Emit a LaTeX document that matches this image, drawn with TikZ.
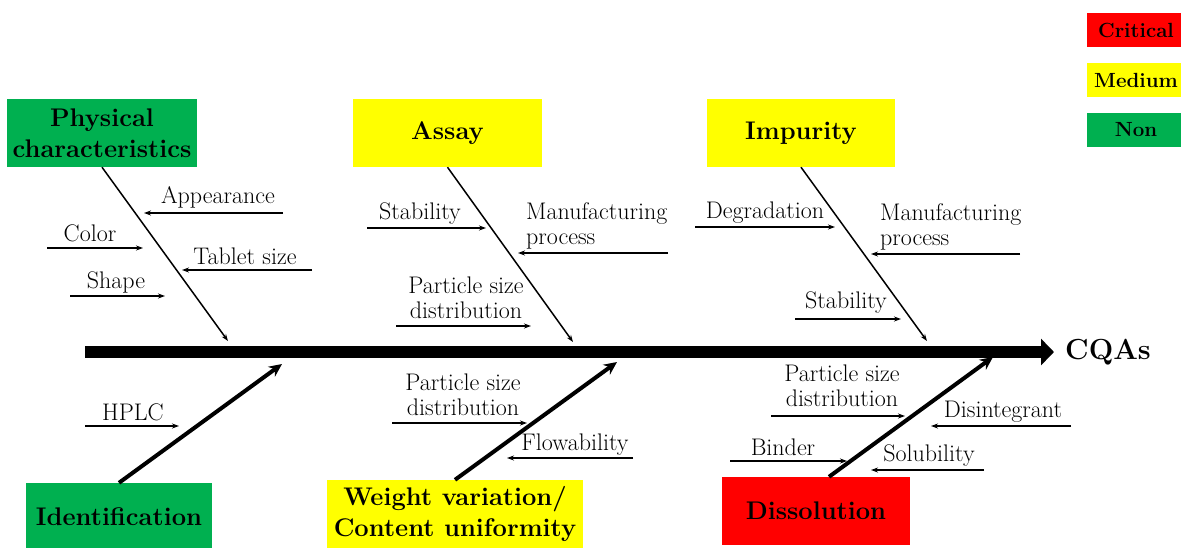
\documentclass[tikz,border=0pt]{standalone}
\usepackage{fontspec}
\usetikzlibrary{arrows.meta}
\definecolor{cgreen}{RGB}{0,176,80}
\definecolor{cyellow}{RGB}{255,255,0}
\definecolor{cred}{RGB}{255,0,0}
\begin{document}
\begin{tikzpicture}[x=1pt,y=-1pt,
  head/.style={font=\fontsize{25.5}{31}\selectfont\bfseries, align=center, inner sep=0pt, minimum height=68pt},
  legend/.style={font=\fontsize{20.5}{22}\selectfont\bfseries, inner sep=0pt, minimum width=98pt, minimum height=34pt},
  lbl/.style={font=\fontsize{24}{25}\selectfont, inner sep=0pt},
  cause/.style={line width=1.4pt, -{Stealth[length=7pt,width=5pt]}},
  bone/.style={line width=1.5pt, -{Stealth[length=7pt,width=5pt]}},
  bonethick/.style={line width=4pt, -{Stealth[length=13pt,width=12pt]}},
  spine/.style={line width=12pt, -{Triangle[length=13pt,width=26pt]}}
]
\useasboundingbox (0,0) rectangle (1181,547);

% legend
\node[legend, fill=cred] (lcrit) at (1136,30) {Critical};
\node[legend, fill=cyellow] (lmed) at (1136,80) {Medium};
\node[legend, fill=cgreen] (lnon) at (1136,129.5) {Non};

% spine
\coordinate (sp0) at (85,352);
\coordinate (sp1) at (1054,352);
\draw[spine] (sp0) -- (sp1);
\node[font=\fontsize{29}{30}\selectfont\bfseries, inner sep=0pt] (cqa) at (1108,352) {CQAs};

% top boxes
\node[head, fill=cgreen, minimum width=190pt] (phys) at (102,133) {Physical\\characteristics};
\node[head, fill=cyellow, minimum width=189pt] (assay) at (447.5,133) {Assay};
\node[head, fill=cyellow, minimum width=188pt] (imp) at (801,133) {Impurity};

% bottom boxes
\node[head, fill=cgreen, minimum width=186pt] (ident) at (119,517) {Identification};
\node[head, fill=cyellow, minimum width=256pt] (weight) at (455,514) {Weight variation/\\Content uniformity};
\node[head, fill=cred, minimum width=188pt] (diss) at (816,511) {Dissolution};

% bone ends
\coordinate (pe) at (228,341);
\coordinate (ae) at (573,342);
\coordinate (ie) at (927,341);
\coordinate (de) at (282,364);
\coordinate (we) at (617,362);
\coordinate (se) at (993,357);

\draw[bone] (phys.south) -- (pe);
\draw[bone] (assay.south) -- (ae);
\draw[bone] (imp.south) -- (ie);
\draw[bonethick] (ident.north) -- (de);
\draw[bonethick] (weight.north) -- (we);
\draw[bonethick] ([xshift=13pt]diss.north) -- (se);

% Physical characteristics causes
\coordinate (a1s) at (283,213); \coordinate (a1e) at (144,213);
\draw[cause] (a1s) -- (a1e);
\node[lbl] (t1) at (218,197) {Appearance};
\coordinate (a2s) at (47,248); \coordinate (a2e) at (143,248);
\draw[cause] (a2s) -- (a2e);
\node[lbl] (t2) at (90,233) {Color};
\coordinate (a3s) at (312,270); \coordinate (a3e) at (182,270);
\draw[cause] (a3s) -- (a3e);
\node[lbl] (t3) at (245,256) {Tablet size};
\coordinate (a4s) at (70,296); \coordinate (a4e) at (165,296);
\draw[cause] (a4s) -- (a4e);
\node[lbl] (t4) at (116,282) {Shape};

% Assay causes
\coordinate (b1s) at (367,228); \coordinate (b1e) at (486,228);
\draw[cause] (b1s) -- (b1e);
\node[lbl] (u1) at (420,214) {Stability};
\coordinate (b2s) at (668,253); \coordinate (b2e) at (518,253);
\draw[cause] (b2s) -- (b2e);
\node[lbl, align=left, anchor=west] (u2) at (526,226) {Manufacturing\\process};
\coordinate (b3s) at (396,326); \coordinate (b3e) at (531,326);
\draw[cause] (b3s) -- (b3e);
\node[lbl, align=center] (u3) at (466,298) {Particle size\\distribution};

% Impurity causes
\coordinate (c1s) at (695,227); \coordinate (c1e) at (835,227);
\draw[cause] (c1s) -- (c1e);
\node[lbl] (v1) at (765,213) {Degradation};
\coordinate (c2s) at (1020,254); \coordinate (c2e) at (871,254);
\draw[cause] (c2s) -- (c2e);
\node[lbl, align=left, anchor=west] (v2) at (880,227) {Manufacturing\\process};
\coordinate (c3s) at (795,319); \coordinate (c3e) at (901,319);
\draw[cause] (c3s) -- (c3e);
\node[lbl] (v3) at (846,303) {Stability};

% Identification causes
\coordinate (d1s) at (85,426); \coordinate (d1e) at (179,426);
\draw[cause] (d1s) -- (d1e);
\node[lbl] (w1) at (133,412) {HPLC};

% Weight variation causes
\coordinate (e1s) at (392,423); \coordinate (e1e) at (527,423);
\draw[cause] (e1s) -- (e1e);
\node[lbl, align=center] (x1) at (463,395) {Particle size\\distribution};
\coordinate (e2s) at (633,458); \coordinate (e2e) at (507,458);
\draw[cause] (e2s) -- (e2e);
\node[lbl] (x2) at (575,445) {Flowability};

% Dissolution causes
\coordinate (f1s) at (771,416); \coordinate (f1e) at (905,416);
\draw[cause] (f1s) -- (f1e);
\node[lbl, align=center] (y1) at (842,386) {Particle size\\distribution};
\coordinate (f2s) at (1071,426); \coordinate (f2e) at (931,426);
\draw[cause] (f2s) -- (f2e);
\node[lbl] (y2) at (1003,412) {Disintegrant};
\coordinate (f3s) at (730,461); \coordinate (f3e) at (847,461);
\draw[cause] (f3s) -- (f3e);
\node[lbl] (y3) at (783,447) {Binder};
\coordinate (f4s) at (984,470); \coordinate (f4e) at (871,470);
\draw[cause] (f4s) -- (f4e);
\node[lbl] (y4) at (929,456) {Solubility};
\end{tikzpicture}
\end{document}
